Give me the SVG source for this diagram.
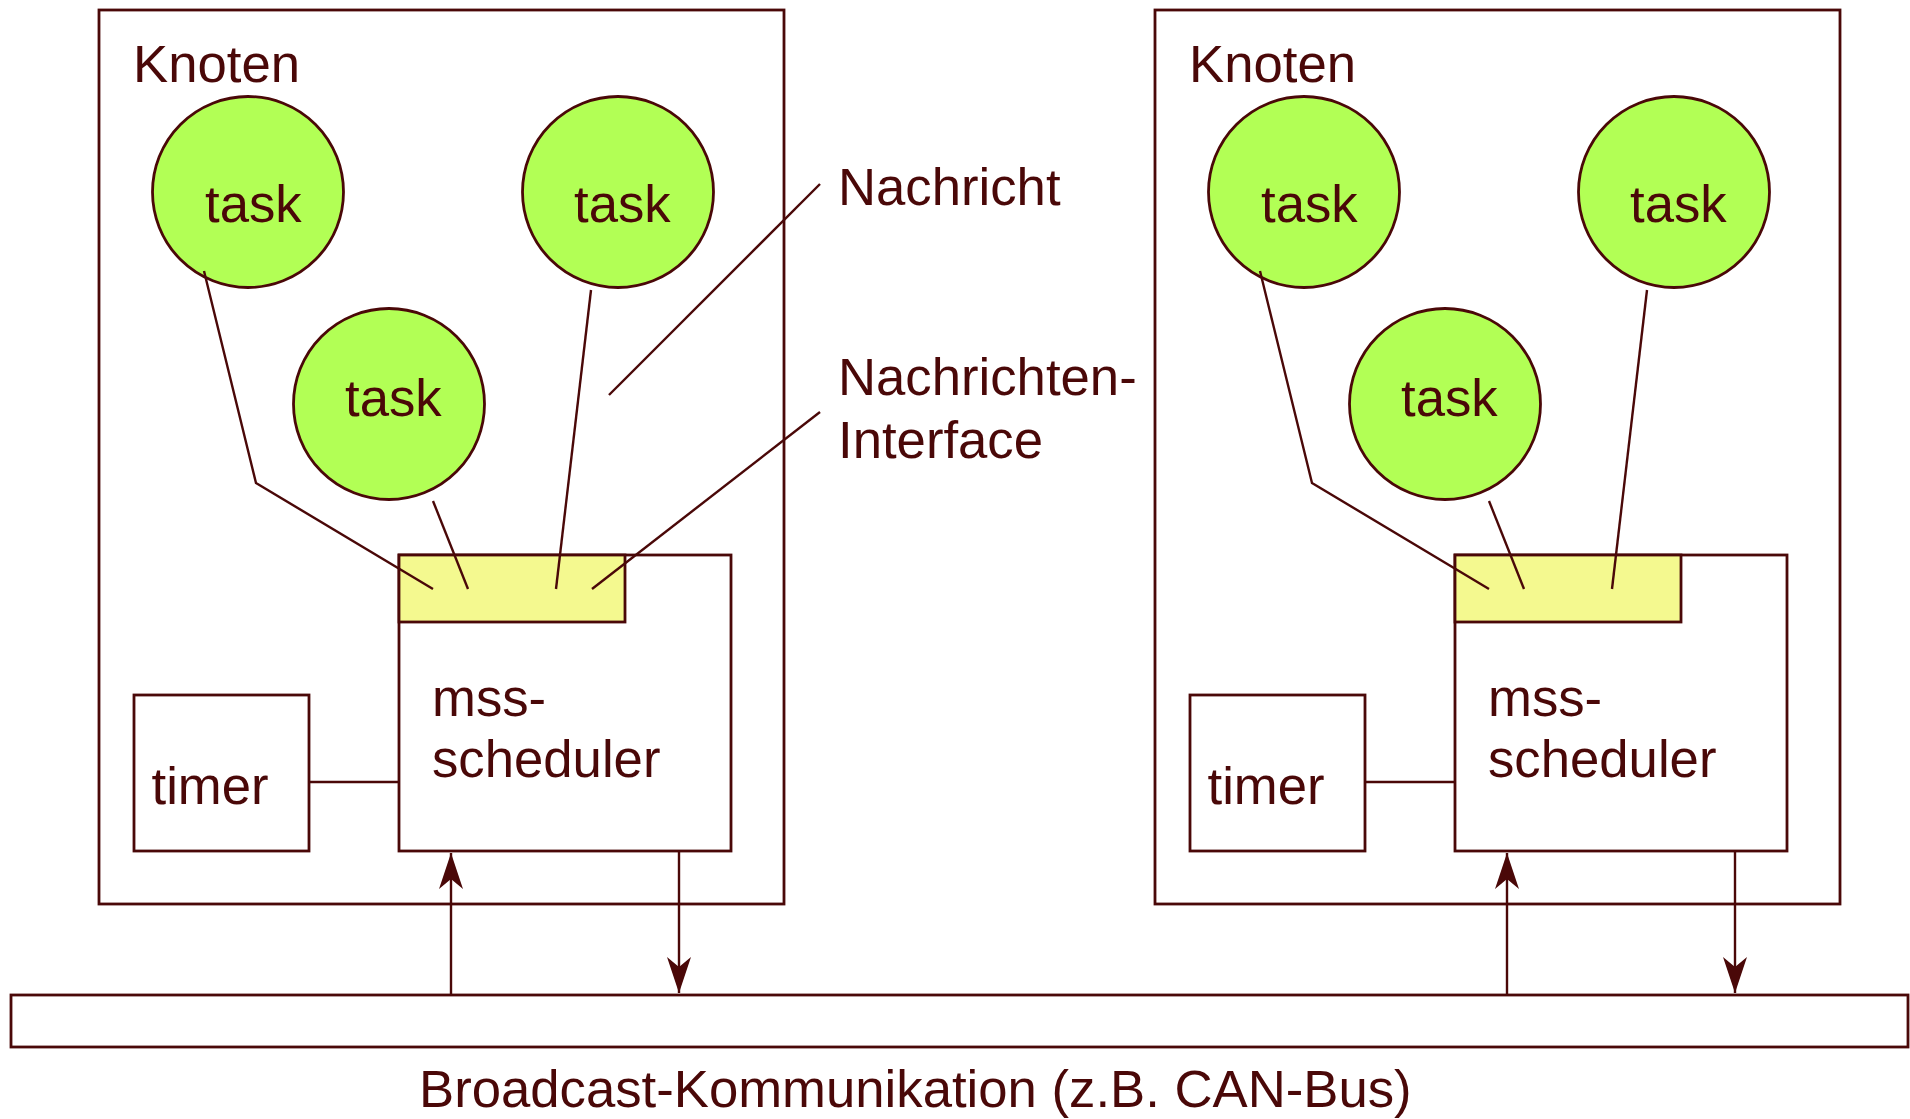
<svg xmlns="http://www.w3.org/2000/svg" width="1910" height="1119" viewBox="0 0 1910 1119">
<style>
text{font-family:"Liberation Sans",Arial,sans-serif;font-size:52.7px;fill:#4a0808}
.box{fill:#fff;stroke:#4a0808;stroke-width:2.8}
.task{fill:#b2ff55;stroke:#4a0808;stroke-width:2.8}
.iface{fill:#f4f98f;stroke:#4a0808;stroke-width:2.8}
.ln{fill:none;stroke:#4a0808;stroke-width:2.4}
</style>
<defs>
<marker id="ah" viewBox="0 0 36 24" markerWidth="36" markerHeight="24" refX="36" refY="12" orient="auto" markerUnits="userSpaceOnUse">
<path d="M36,12 L0,0 L10,12 L0,24 Z" fill="#4a0808"/>
</marker>
</defs>
<rect width="1910" height="1119" fill="#fff"/>

<g id="bus">
<rect class="box" x="11" y="995" width="1897" height="52"/>
<text x="419" y="1107">Broadcast-Kommunikation (z.B. CAN-Bus)</text>
</g>

<g id="knoten-left">
<rect class="box" x="99" y="10" width="685" height="894"/>
<text x="133" y="82">Knoten</text>
<g id="task-l1"><circle class="task" cx="248" cy="192" r="95.5"/><text x="205" y="222">task</text></g>
<g id="task-l2"><circle class="task" cx="618" cy="192" r="95.5"/><text x="574" y="222">task</text></g>
<g id="task-l3"><circle class="task" cx="389" cy="404" r="95.5"/><text x="345" y="416">task</text></g>
<g id="sched-l">
<rect class="box" x="399" y="555" width="332" height="296"/>
<rect class="iface" x="399" y="555" width="226" height="67"/>
<text x="432" y="716">mss-</text>
<text x="432" y="777">scheduler</text>
</g>
<g id="timer-l"><rect class="box" x="134" y="695" width="175" height="156"/><text x="151.5" y="804">timer</text></g>
</g>

<g id="knoten-right">
<rect class="box" x="1155" y="10" width="685" height="894"/>
<text x="1189" y="82">Knoten</text>
<g id="task-r1"><circle class="task" cx="1304" cy="192" r="95.5"/><text x="1261" y="222">task</text></g>
<g id="task-r2"><circle class="task" cx="1674" cy="192" r="95.5"/><text x="1630" y="222">task</text></g>
<g id="task-r3"><circle class="task" cx="1445" cy="404" r="95.5"/><text x="1401" y="416">task</text></g>
<g id="sched-r">
<rect class="box" x="1455" y="555" width="332" height="296"/>
<rect class="iface" x="1455" y="555" width="226" height="67"/>
<text x="1488" y="716">mss-</text>
<text x="1488" y="777">scheduler</text>
</g>
<g id="timer-r"><rect class="box" x="1190" y="695" width="175" height="156"/><text x="1207.5" y="804">timer</text></g>
</g>

<g id="labels">
<text x="838" y="205">Nachricht</text>
<text x="838" y="395">Nachrichten-</text>
<text x="838" y="458">Interface</text>
</g>

<g id="connectors">
<polyline class="ln" points="204,271 256,483 433,589"/>
<line class="ln" x1="433" y1="501" x2="468" y2="589"/>
<line class="ln" x1="591" y1="290" x2="556" y2="589"/>
<line class="ln" x1="820" y1="412" x2="592" y2="589"/>
<line class="ln" x1="820" y1="184" x2="609" y2="395"/>
<line class="ln" x1="309" y1="782" x2="399" y2="782"/>
<line class="ln" x1="451" y1="995" x2="451" y2="853" marker-end="url(#ah)"/>
<line class="ln" x1="679" y1="851" x2="679" y2="993" marker-end="url(#ah)"/>

<polyline class="ln" points="1260,271 1312,483 1489,589"/>
<line class="ln" x1="1489" y1="501" x2="1524" y2="589"/>
<line class="ln" x1="1647" y1="290" x2="1612" y2="589"/>
<line class="ln" x1="1365" y1="782" x2="1455" y2="782"/>
<line class="ln" x1="1507" y1="995" x2="1507" y2="853" marker-end="url(#ah)"/>
<line class="ln" x1="1735" y1="851" x2="1735" y2="993" marker-end="url(#ah)"/>
</g>
</svg>
